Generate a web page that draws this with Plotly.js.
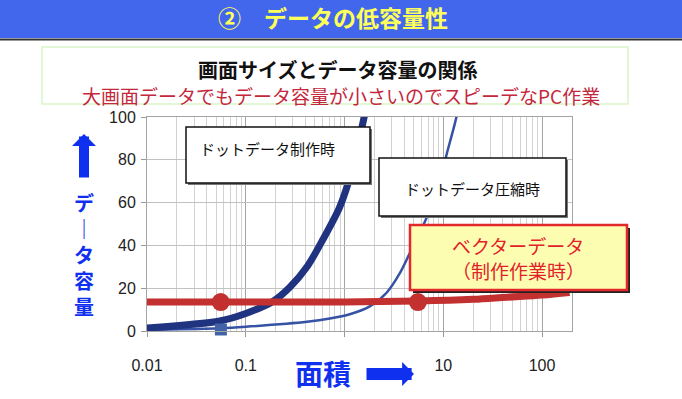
<!DOCTYPE html>
<html><head><meta charset="utf-8">
<script src="https://cdn.plot.ly/plotly-3.0.1.min.js"></script>
<style>html,body{margin:0;padding:0;background:#fff}#chart{width:682px;height:399px}</style>
</head><body><div id="chart"></div><script>
// ---- data ----
const dotMakeArea = [0.01, 0.0546, 0.1, 0.188, 0.279, 0.417, 0.60, 0.895, 1.22, 1.53, 1.75];
const dotMakeSize = [1.4, 4.7, 8.2, 13.8, 20.4, 30, 42.5, 58, 77, 97, 110];
const dotZipArea = [0.01, 0.055, 0.1, 0.417, 0.71, 1.13, 1.8, 2.68, 3.63, 4.58, 5.79, 7.3, 9.25, 11.1, 13.1, 14.5];
const dotZipSize = [0.5, 1.3, 2, 4.3, 5.8, 7.8, 11.5, 18, 27, 36.4, 46, 56.5, 70.6, 84.6, 97, 106];
const vectorArea = [0.01, 0.1, 1, 5.53, 20, 44, 100, 190];
const vectorSize = [13.5, 13.5, 13.6, 14, 14.8, 15.8, 16.8, 18];
const vectorMarkArea = [0.0558, 5.53];
const vectorMarkSize = [13.5, 13.5];
const squareArea = [0.056];
const squareSize = [0.7];
const xTickVals = [0.01, 0.1, 1, 10, 100];
const xTickText = ['0.01', '0.1', '', '10', '100'];
const yTickVals = [0, 20, 40, 60, 80, 100];

// ---- layout helpers (pixel -> paper) ----
const L = 147, R = 572, T = 117, B = 331;
const px = v => (v - L) / (R - L);
const py = v => (B - v) / (B - T);

const minorVals = [];
for (let d = -2; d <= 2; d++) for (let k = 2; k <= 9; k++) minorVals.push(k * Math.pow(10, d));

const CJK = 'Noto Sans CJK JP';
const traces = [
  {x: dotZipArea, y: dotZipSize, mode: 'lines', line: {color: '#3552a4', width: 2.5, shape: 'spline', smoothing: 0.8}, hoverinfo: 'skip'},
  {x: dotMakeArea, y: dotMakeSize, mode: 'lines', line: {color: '#1f3380', width: 7, shape: 'spline', smoothing: 0.8}, hoverinfo: 'skip'},
  {x: vectorArea, y: vectorSize, mode: 'lines', line: {color: '#c2302f', width: 7, shape: 'spline'}, hoverinfo: 'skip'},
  {x: squareArea, y: squareSize, mode: 'markers', marker: {symbol: 'square', size: 12, color: '#4262a8'}, cliponaxis: false},
  {x: vectorMarkArea, y: vectorMarkSize, mode: 'markers', marker: {symbol: 'circle', size: 18, color: '#c2302f'}}
];

function rect(x0, y0, x1, y1, fill, lc, lw) {
  return {type: 'rect', xref: 'paper', yref: 'paper', x0: px(x0), x1: px(x1), y0: py(y1), y1: py(y0),
          fillcolor: fill, line: {color: lc, width: lw}, layer: 'above'};
}
function txt(x, y, text, size, color, xanchor, extra) {
  return Object.assign({xref: 'paper', yref: 'paper', x: px(x), y: py(y), text: text, showarrow: false,
    xanchor: xanchor || 'center', yanchor: 'middle', font: {family: CJK, size: size, color: color}}, extra || {});
}

const shapes = [
  rect(0, 0, 682, 38, '#4267ec', 'rgba(0,0,0,0)', 0),
  {type: 'line', xref: 'paper', yref: 'paper', x0: px(0), x1: px(682), y0: py(39.5), y1: py(39.5), line: {color: '#333', width: 2}},
  rect(42, 47, 628, 104, 'rgba(0,0,0,0)', '#d8f5c8', 1.5),
  // box 1
  rect(188, 129, 372, 185, '#777', 'rgba(0,0,0,0)', 0),
  rect(186, 127, 370, 183, '#fff', '#111', 1.5),
  // box 2
  rect(381, 160, 568, 218, '#777', 'rgba(0,0,0,0)', 0),
  rect(379, 158, 566, 216, '#fff', '#111', 1.5),
  // box 3
  rect(413, 228, 630, 293, '#222', 'rgba(0,0,0,0)', 0),
  rect(410, 225, 627, 290, '#fdfdb2', '#e2282a', 2.5)
];

const annotations = [
  txt(337, 69, '画面サイズとデータ容量の関係', 20, '#111', 'center', {font: {family: CJK, size: 20, color: '#111', weight: 'bold'}}),
  txt(341, 96, '大画面データでもデータ容量が小さいのでスピーデなPC作業', 19, '#c4283c'),
  txt(198, 148, 'ドットデータ制作時', 15, '#111', 'left'),
  txt(472, 188, 'ドットデータ圧縮時', 15, '#111'),
  txt(518, 245, 'ベクターデータ', 19, '#e2222a'),
  txt(518, 270, '（制作作業時）', 19, '#e2222a'),
  // y axis title (vertical)
  txt(84, 254, 'デ<br>｜<br>タ<br>容<br>量', 20, '#1030f0', 'center', {font: {family: CJK, size: 20, color: '#1030f0', weight: 'bold'}}),
  {xref: 'paper', yref: 'paper', x: px(84), y: py(134), ax: 0, ay: 45, text: '', showarrow: true,
   arrowhead: 1, arrowwidth: 10, arrowsize: 0.4, arrowcolor: '#1030f0'},
  // x axis title
  txt(323, 373, '面積', 28, '#1030f0', 'center', {font: {family: CJK, size: 28, color: '#1030f0', weight: 'bold'}}),
  {xref: 'paper', yref: 'paper', x: px(414), y: py(374), ax: -49, ay: 0, text: '', showarrow: true,
   arrowhead: 1, arrowwidth: 12, arrowsize: 0.33, arrowcolor: '#1030f0'}
];

const layout = {
  width: 682, height: 399,
  margin: {l: L, r: 682 - R, t: T, b: 399 - B},
  paper_bgcolor: '#fff', plot_bgcolor: '#fff',
  showlegend: false,
  title: {text: '②　データの低容量性', font: {family: CJK, size: 23, color: '#ffff5a', weight: 'bold'},
          x: 333 / 682, xref: 'container', xanchor: 'center', y: 1 - 19 / 399, yref: 'container', yanchor: 'middle'},
  xaxis: {type: 'log', range: [-2, 2.303], tickmode: 'array', tickvals: xTickVals, ticktext: xTickText,
          showgrid: true, gridcolor: '#a4a4a4', gridwidth: 1,
          minor: {tickmode: 'array', tickvals: minorVals, showgrid: true, gridcolor: '#d2d2d2', gridwidth: 1, ticks: ''},
          ticks: 'outside', ticklen: 5, tickcolor: '#999', ticklabelstandoff: 15,
          showline: true, linecolor: '#a4a4a4', mirror: true, zeroline: false,
          tickfont: {family: 'Liberation Sans', size: 16, color: '#222'}},
  yaxis: {range: [0, 100], tickmode: 'array', tickvals: yTickVals,
          showgrid: true, gridcolor: '#c2c2c2', gridwidth: 1,
          ticks: 'outside', ticklen: 5, tickcolor: '#999', ticklabelstandoff: 2,
          showline: true, linecolor: '#a4a4a4', mirror: true, zeroline: false,
          tickfont: {family: 'Liberation Sans', size: 16, color: '#222'}},
  shapes: shapes,
  annotations: annotations
};

Plotly.newPlot('chart', traces, layout, {displayModeBar: false, staticPlot: true});
</script></body></html>
